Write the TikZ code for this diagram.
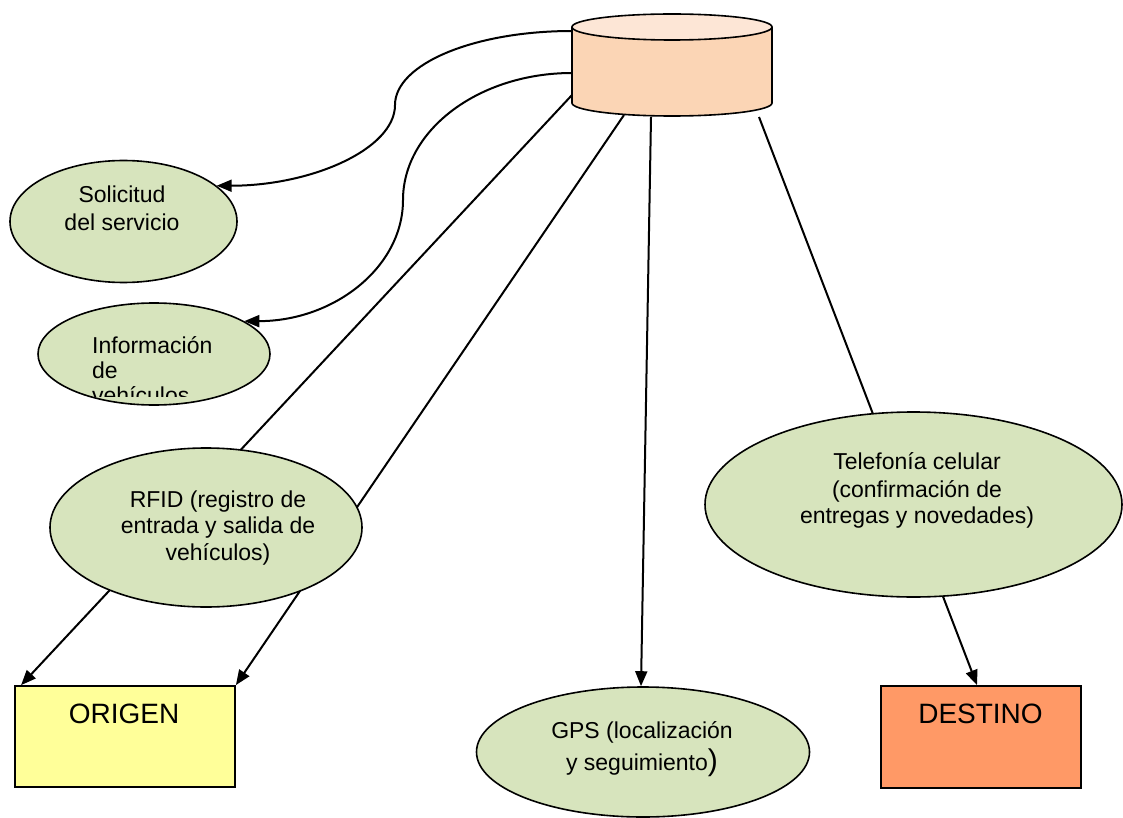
\documentclass[tikz,border=0pt]{standalone}
\usepackage{fontspec}
\setmainfont{Liberation Sans}
\usetikzlibrary{arrows.meta,calc,shapes.geometric}
\definecolor{leaf}{HTML}{D7E4BD}
\definecolor{dbbody}{HTML}{FBD5B5}
\definecolor{dbtop}{HTML}{FDE6D6}
\definecolor{origfill}{HTML}{FFFF99}
\definecolor{destfill}{HTML}{FF9966}
\pgfdeclarelayer{back}
\pgfsetlayers{back,main}
\begin{document}
\begin{tikzpicture}[x=1pt,y=-1pt,
  bubble/.style={ellipse,draw,fill=leaf,line width=1.6pt,inner sep=0pt},
  place/.style={rectangle,draw,line width=1.8pt,inner sep=0pt},
  link/.style={line width=2pt,-{Triangle[length=15pt,width=12pt]}},
  lbl/.style={anchor=base,inner sep=0pt,font=\fontsize{23}{27}\selectfont},
  big/.style={anchor=base,inner sep=0pt,font=\fontsize{28}{32}\selectfont}]
\useasboundingbox (0,0) rectangle (1123,818);

% database cylinder
\fill[dbbody] (572,27) -- (572,103) arc[start angle=180,end angle=0,x radius=100,y radius=13] -- (772,27) -- cycle;
\draw[line width=1.6pt] (572,27) -- (572,103) arc[start angle=180,end angle=0,x radius=100,y radius=13] -- (772,27);
\draw[line width=1.6pt,fill=dbtop] (672,27) ellipse [x radius=100, y radius=13];

% connector start points on the cylinder
\coordinate (dbA) at (572,31);
\coordinate (dbB) at (572,73);
\coordinate (dbC) at (572,95);
\coordinate (dbD) at (624,115);
\coordinate (dbE) at (651,117);
\coordinate (dbF) at (759,117);
\coordinate (bendA) at (395,105);
\coordinate (bendB) at (403,200);

% services
\node[bubble,minimum width=227pt,minimum height=122pt] (sol) at (123.5,221.5) {};
\node[bubble,minimum width=232pt,minimum height=102pt] (inf) at (154,354) {};
\node[bubble,minimum width=312pt,minimum height=159pt] (rfid) at (206,527.5) {};
\node[bubble,minimum width=417pt,minimum height=185pt] (tel) at (913.5,504.5) {};
\node[bubble,minimum width=333pt,minimum height=130pt] (gps) at (643,752) {};

% end points
\node[place,fill=origfill,minimum width=220pt,minimum height=101pt] (org) at (125,736.5) {};
\node[place,fill=destfill,minimum width=200pt,minimum height=102pt] (dst) at (981,737) {};

% connectors, kept behind the shapes
\begin{pgfonlayer}{back}
\draw[link] (dbA) .. controls +(-98,0) and +(0,-41) .. (bendA)
                  .. controls +(0,44) and +(95,0) .. (sol.21);
\draw[link] (dbB) .. controls +(-93,0) and +(0,-70) .. (bendB)
                  .. controls +(0,67) and +(90,0) .. (inf.20);
\draw[link] (dbC) -- ($(org.north west)+(7,0)$);
\draw[link] (dbD) -- (org.north east);
\draw[link] (dbE) -- ($(gps.north)+(-2,0)$);
\draw[link] (dbF) -- ($(dst.north)+(-4,0)$);
\end{pgfonlayer}

% labels
\node[lbl] (solT1) at (122,203) {Solicitud};
\node[lbl] (solT2) at (122,230) {del servicio};

\begin{scope}
\clip (40,300) rectangle (275,396);
\node[lbl,anchor=base west] (infT1) at (92,353) {Información};
\node[lbl,anchor=base west] (infT2) at (92,378) {de};
\node[lbl,anchor=base west] (infT3) at (92,403) {vehículos};
\end{scope}

\node[lbl] (rfT1) at (218,507) {RFID (registro de};
\node[lbl] (rfT2) at (218,533) {entrada y salida de};
\node[lbl] (rfT3) at (218,560) {vehículos)};

\node[lbl] (telT1) at (917,469) {Telefonía celular};
\node[lbl] (telT2) at (917,497) {(confirmación de};
\node[lbl] (telT3) at (917,523) {entregas y novedades)};

\node[lbl] (gpsT1) at (642,738) {GPS (localización};
\node[lbl] (gpsT2) at (642,770) {y seguimiento{\fontsize{30}{32}\selectfont)}};

\node[big] (orgT) at (124,723) {ORIGEN};
\node[big] (dstT) at (980.5,723) {DESTINO};
\end{tikzpicture}
\end{document}
